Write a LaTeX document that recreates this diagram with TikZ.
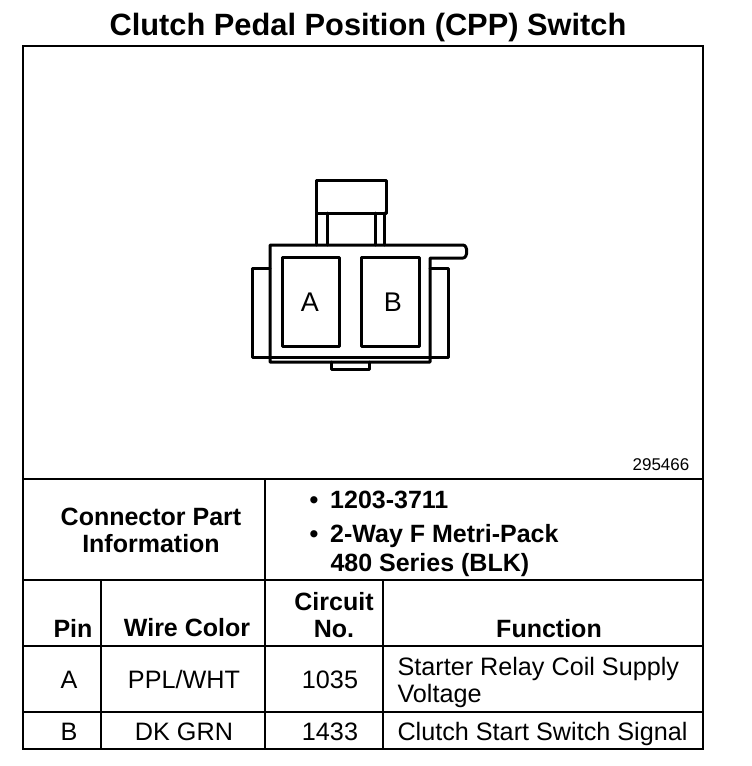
\documentclass[tikz,border=0pt]{standalone}
\usepackage{fontspec}
\usepackage{xcolor}
\setmainfont{Liberation Sans}
\usetikzlibrary{calc,positioning}
\tikzset{
	rule_line/.style={line width=2.8pt},
	part_line/.style={line width=3pt,line cap=round,line join=round},
	head_text/.style={font=\fontsize{25}{27}\selectfont\bfseries,align=center},
	body_text/.style={font=\fontsize{25.2}{27}\selectfont,align=left},
}
\begin{document}
\begin{tikzpicture}[black,x=1pt,y=-1pt]
	\useasboundingbox (0, 0) rectangle (752, 766);
	% Points
	\coordinate (TL) at (23, 46);
	\coordinate (TR) at (703, 46);
	\coordinate (BL) at (23, 749);
	\coordinate (BR) at (703, 749);
	\coordinate (SL) at (23, 479);
	\coordinate (SR) at (703, 479);
	\coordinate (IL) at (23, 580);
	\coordinate (IR) at (703, 580);
	\coordinate (HL) at (23, 646);
	\coordinate (HR) at (703, 646);
	\coordinate (RL) at (23, 712);
	\coordinate (RR) at (703, 712);

	% Frame and table
	\draw[rule_line] (TL) -- (TR) -- (BR) -- (BL) -- cycle;
	\draw[rule_line] (SL) -- (SR);
	\draw[rule_line] (IL) -- (IR);
	\draw[rule_line] (HL) -- (HR);
	\draw[rule_line] (RL) -- (RR);
	\draw[rule_line] (265, 479) -- (265, 749);
	\draw[rule_line] (101, 580) -- (101, 749);
	\draw[rule_line] (383, 580) -- (383, 749);

	% Latch
	\draw[part_line] (316, 213) rectangle (386, 180);
	\draw[part_line] (316, 213) -- (316, 245);
	\draw[part_line] (327, 213) -- (327, 245);
	\draw[part_line] (375, 213) -- (375, 245);
	\draw[part_line] (384, 213) -- (384, 245);

	% Housing
	\draw[part_line] (270, 268) -- (270, 245) -- (463, 245)
		.. controls (468, 245) and (468, 258) .. (463, 258)
		-- (430, 258) -- (430, 362) -- (270, 362) -- (270, 268);
	\draw[part_line] (270, 357) -- (430, 357);
	\draw[part_line] (270, 268) -- (252, 268) -- (252, 357) -- (270, 357);
	\draw[part_line] (430, 268) -- (448, 268) -- (448, 357) -- (430, 357);
	\draw[part_line] (331, 362) -- (331, 369) -- (369, 369) -- (369, 362);

	% Pockets
	\draw[part_line] (282, 257) rectangle (339, 346);
	\draw[part_line] (361, 257) rectangle (419, 346);
	\node[font=\fontsize{27}{30}\selectfont] (pin_a) at (310, 302) {A};
	\node[font=\fontsize{27}{30}\selectfont] (pin_b) at (393, 302) {B};

	% Labels
	\node[font=\fontsize{30.8}{34}\selectfont\bfseries] (title) at (368, 28) {Clutch Pedal Position (CPP) Switch};
	\node[font=\fontsize{17}{18}\selectfont] (fig_no) at (661, 465) {295466};
	\node[head_text] (part_info) at (151, 530) {Connector Part\\Information};
	\node[head_text,anchor=west] (bullet_one) at (306, 500) {• \hspace{5pt}1203-3711};
	\node[head_text,anchor=west] (bullet_two) at (306, 536) {• \hspace{5pt}2-Way F Metri-Pack};
	\node[head_text,anchor=west] (series) at (327, 565) {480 Series (BLK)};

	% Header row
	\node[head_text] (col_pin) at (73, 628) {Pin};
	\node[head_text] (col_wire) at (187, 628) {Wire Color};
	\node[head_text] (col_circuit) at (334, 615) {Circuit\\No.};
	\node[head_text] (col_func) at (549, 629) {Function};

	% Rows
	\node[body_text] (a_pin) at (69, 680) {A};
	\node[body_text] (a_wire) at (184, 679) {PPL/WHT};
	\node[body_text] (a_circuit) at (330, 680) {1035};
	\node[body_text,anchor=west] (a_func) at (394, 682) {Starter Relay Coil Supply\\Voltage};
	\node[body_text] (b_pin) at (69, 732) {B};
	\node[body_text] (b_wire) at (184, 732) {DK GRN};
	\node[body_text] (b_circuit) at (330, 732) {1433};
	\node[body_text,anchor=west] (b_func) at (394, 734) {Clutch Start Switch Signal};
\end{tikzpicture}
\end{document}
